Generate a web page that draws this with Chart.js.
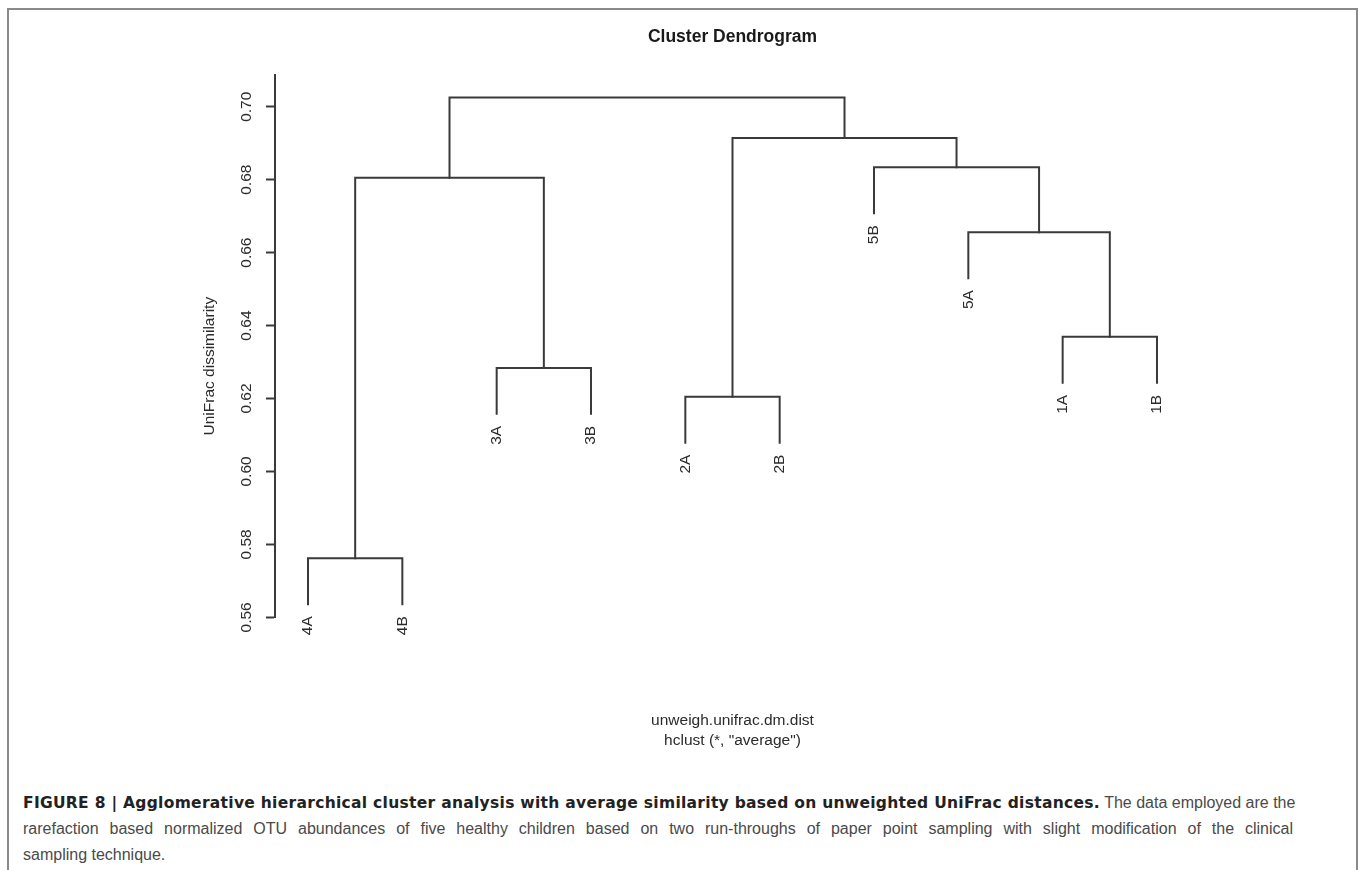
<!DOCTYPE html>
<html>
<head>
<meta charset="utf-8">
<script src="https://cdn.jsdelivr.net/npm/chart.js@4.4.1/dist/chart.umd.min.js"></script>
<style>
  html, body { margin:0; padding:0; background:#fff; width:1358px; height:870px; overflow:hidden; }
  #frame { position:absolute; left:7px; top:8px; width:1347px; height:900px; border:2px solid #8a8a8a; border-bottom:none; }
  #wrap { position:absolute; left:0; top:0; width:1358px; height:790px; }
  .cap { position:absolute; left:23px; width:1270px; font-family:"Liberation Sans", Arial, sans-serif; font-size:16px; color:#4a4a4a; white-space:nowrap; line-height:20px; }
  .just { text-align:justify; text-align-last:justify; white-space:normal; }
  .cap b { color:#222; white-space:nowrap; font-family:"DejaVu Sans", "Liberation Sans", sans-serif; font-size:15.5px; }
</style>
</head>
<body>
<div id="frame"></div>
<div id="wrap"><canvas id="c" width="1358" height="790"></canvas></div>
<div class="cap" style="top:793px; width:1300px"><b id="capBold">FIGURE 8 | Agglomerative hierarchical cluster analysis with average similarity based on unweighted UniFrac distances.</b> The data employed are the</div>
<div class="cap just" style="top:819px">rarefaction based normalized OTU abundances of five healthy children based on two run-throughs of paper point sampling with slight modification of the clinical</div>
<div class="cap" style="top:845px">sampling technique.</div>
<script>
// ---- data ----
const leafLabels  = ['4A','4B','3A','3B','2A','2B','5B','5A','1A','1B'];
// merge i joins mergeLeft[i] and mergeRight[i]; 'mK' refers to merge K
const mergeLeft   = ['4A','3A','2A','1A','5A','5B','m0','m2','m6'];
const mergeRight  = ['4B','3B','2B','1B','m3','m4','m1','m5','m7'];
const mergeHeight = [0.5762, 0.6284, 0.6205, 0.6369, 0.6656, 0.6834, 0.6805, 0.6914, 0.7025];
const hang = 0.0126;
const yTicks = [0.56, 0.58, 0.60, 0.62, 0.64, 0.66, 0.68, 0.70];
const titleText = 'Cluster Dendrogram';
const yTitle = 'UniFrac dissimilarity';
const xSubtitle = ['unweigh.unifrac.dm.dist', 'hclust (*, "average")'];

// match the bold caption run to the width it has in the figure
(function fitBold() {
  const b = document.getElementById('capBold');
  const w = b.getBoundingClientRect().width;
  const n = b.textContent.length;
  b.style.letterSpacing = ((1077 - w) / n).toFixed(3) + 'px';
})();

// ---- derive node positions (library scales do the pixel mapping) ----
const nodeX = {}, nodeTop = {};
leafLabels.forEach((l, i) => { nodeX[l] = i + 1; });
mergeLeft.forEach((l, i) => {
  const r = mergeRight[i];
  [l, r].forEach(c => { if (!c.startsWith('m')) nodeTop[c] = mergeHeight[i] - hang; });
});
mergeLeft.forEach((l, i) => {
  nodeX['m' + i] = (nodeX[l] + nodeX[mergeRight[i]]) / 2;
  nodeTop['m' + i] = mergeHeight[i];
});
const datasets = mergeLeft.map((l, i) => {
  const r = mergeRight[i], h = mergeHeight[i];
  return {
    data: [{x: nodeX[l], y: nodeTop[l]}, {x: nodeX[l], y: h}, {x: nodeX[r], y: h}, {x: nodeX[r], y: nodeTop[r]}],
    showLine: true, borderColor: '#3a3a3a', borderWidth: 2, pointRadius: 0, tension: 0,
    borderCapStyle: 'square', borderJoinStyle: 'miter', clip: false
  };
});

const FONT = '"Liberation Sans", Arial, sans-serif';
const TXT = '#2b2b2b';

const extraText = {
  id: 'extraText',
  afterDraw(chart) {
    const ctx = chart.ctx, xs = chart.scales.x, ys = chart.scales.y, ca = chart.chartArea;
    ctx.save();
    ctx.font = '15.5px ' + FONT;
    ctx.fillStyle = TXT;
    ctx.textBaseline = 'middle';
    ctx.textAlign = 'right';
    leafLabels.forEach(lab => {
      const px = xs.getPixelForValue(nodeX[lab]);
      const py = ys.getPixelForValue(nodeTop[lab]) + 12;
      ctx.save(); ctx.translate(px, py); ctx.rotate(-Math.PI / 2); ctx.fillText(lab, 0, 0); ctx.restore();
    });
    ctx.textAlign = 'center';
    ctx.save();
    ctx.translate(ca.left - 65, (ca.top + ca.bottom) / 2 + 20);
    ctx.rotate(-Math.PI / 2);
    ctx.fillText(yTitle, 0, 0);
    ctx.restore();
    ctx.restore();
  }
};

new Chart(document.getElementById('c'), {
  type: 'scatter',
  data: { datasets },
  plugins: [extraText],
  options: {
    responsive: false,
    animation: false,
    events: [],
    layout: { padding: { left: 0, right: 168, top: 0, bottom: 0 } },
    plugins: {
      legend: { display: false },
      tooltip: { enabled: false },
      title: {
        display: true, text: titleText, fullSize: false, color: '#1a1a1a',
        font: { family: FONT, size: 17.5, weight: 'bold', lineHeight: 1.2 },
        padding: { top: 26.5, bottom: 27.5 }
      },
      subtitle: {
        display: true, text: xSubtitle, position: 'bottom', fullSize: false, color: TXT,
        font: { family: FONT, size: 15.5, lineHeight: 1.25 },
        padding: { top: 94, bottom: 39.9 }
      }
    },
    scales: {
      x: { type: 'linear', min: 0.65, max: 10.35, display: false },
      y: {
        type: 'linear', min: 0.56, max: 0.7087,
        afterBuildTicks: s => { s.ticks = yTicks.map(v => ({ value: v })); },
        afterFit: s => { s.width = 275; },
        ticks: {
          autoSkip: false, minRotation: 90, maxRotation: 90, crossAlign: 'center', padding: 4,
          color: TXT, font: { family: FONT, size: 15.5 },
          callback: v => Number(v).toFixed(2)
        },
        grid: { drawOnChartArea: false, drawTicks: true, tickLength: 9, tickWidth: 2, tickColor: '#3a3a3a' },
        border: { display: true, color: '#3a3a3a', width: 2 }
      }
    }
  }
});
</script>
</body>
</html>
